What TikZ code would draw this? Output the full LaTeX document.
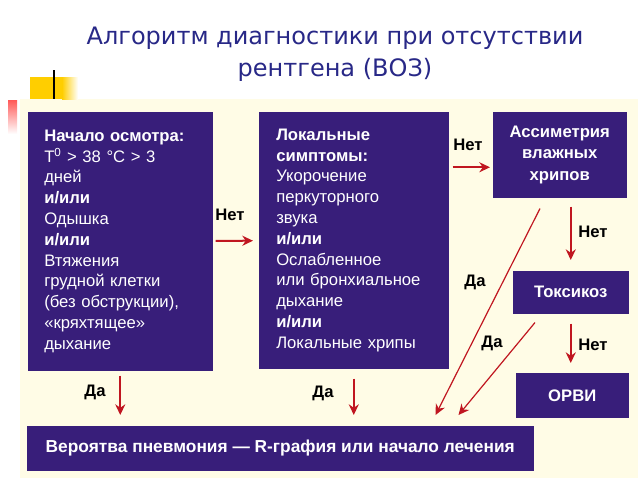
\documentclass[tikz,border=0pt]{standalone}
\usepackage{fontspec}
\setmainfont{Liberation Sans}
\newfontfamily\titlefont{DejaVu Sans}
\usetikzlibrary{arrows.meta,calc}
\definecolor{boxc}{RGB}{56,30,122}
\definecolor{arrc}{RGB}{192,22,32}
\definecolor{creme}{RGB}{255,252,230}
\definecolor{titlec}{RGB}{40,40,135}
\definecolor{ylw}{RGB}{255,206,0}
\def\answer#1#2#3{\node[lbl] (#1) at (#2) {#3}}
\tikzstyle{box}=[fill=boxc,draw=boxc,text=white,anchor=north west,inner sep=0pt,font=\fontsize{12.5}{15.6}\selectfont]
\tikzstyle{listbox}=[box,align=left,inner xsep=12pt]
\tikzstyle{headbox}=[box,align=center,font=\fontsize{12.5}{16}\selectfont\bfseries]
\tikzstyle{lbl}=[font=\fontsize{12.5}{13}\selectfont\bfseries]
\tikzstyle{arr}=[draw=arrc,line width=1.5pt,-{Stealth[length=8pt,width=7.5pt]}]
\tikzstyle{thinarr}=[arr,line width=0.9pt]

\begin{document}
\begin{tikzpicture}[x=0.75pt,y=-0.75pt]
  \useasboundingbox (0,0) rectangle (640,480);
  % slide decoration
  \fill[creme] (20,99) rectangle (638,478);
  \fill[ylw] (30,77) rectangle (62,99);
  \shade[left color=ylw,right color=white] (62,77) rectangle (78,99);
  \draw[line width=1pt] (54,70) -- (54,99);
  \shade[top color=red!65,bottom color=white] (8,100) rectangle (17,134);
  \node[align=center,text=titlec,font=\titlefont\fontsize{18}{24}\selectfont] (title) at (335,54)
    {Алгоритм диагностики при отсутствии\\рентгена (ВОЗ)};

  % boxes
  \node[listbox,text width=114pt,minimum width=138pt,minimum height=193.5pt] (start) at (28,112) {
    \textbf{Начало осмотра:}\\
    T\textsuperscript{0} > 38 °C > 3\\
    дней\\
    \textbf{и/или}\\
    Одышка\\
    \textbf{и/или}\\
    Втяжения\\
    грудной клетки\\
    (без обструкции),\\
    «кряхтящее»\\
    дыхание};
  \node[listbox,text width=116.25pt,minimum width=141.75pt,minimum height=192pt] (local) at (259,112) {
    \textbf{Локальные}\\
    \textbf{симптомы:}\\
    Укорочение\\
    перкуторного\\
    звука\\
    \textbf{и/или}\\
    Ослабленное\\
    или бронхиальное\\
    дыхание\\
    \textbf{и/или}\\
    Локальные хрипы};
  \node[headbox,minimum width=99.75pt,minimum height=63.75pt] (asym) at (493,112)
    {Ассиметрия\\влажных\\хрипов};
  \node[headbox,minimum width=86.25pt,minimum height=31.5pt] (tox) at (513,271) {Токсикоз};
  \node[headbox,minimum width=84pt,minimum height=33pt] (orvi) at (516,373) {ОРВИ};
  \node[headbox,minimum width=379.5pt,minimum height=33pt,font=\fontsize{13}{16}\selectfont\bfseries] (pneu) at (27,426)
    {Вероятва пневмония — R-графия или начало лечения};

  % arrows
  \draw[arr,shorten <=2.25pt,shorten >=4.5pt] (start) -- (local);
  \draw[arr,shorten <=3pt,shorten >=2.25pt] ($(local.east |- asym.west)+(0,12.5)$) -- ($(asym.west)+(0,12.5)$);
  \draw[arr,shorten <=6.75pt,shorten >=8.25pt] (asym.south -| tox) -- (tox);
  \draw[arr,shorten <=7.5pt,shorten >=7.5pt] (tox.south) -- (tox.south |- orvi.north);
  \draw[arr,shorten <=3.75pt,shorten >=8.25pt] (start.south) -- (start.south |- pneu.north);
  \draw[arr,shorten <=7.5pt,shorten >=8.25pt] (local.south) -- (local.south |- pneu.north);
  \draw[thinarr] ($(asym.south west)+(47,11)$) -- ($(pneu.north east)+(-98,-11)$);
  \draw[thinarr] ($(tox.south west)+(22,9)$) -- ($(pneu.north east)+(-75,-11)$);

  % labels
  \answer{no1}{230,215}{Нет};
  \answer{no2}{468,145}{Нет};
  \answer{no3}{593,232}{Нет};
  \answer{no4}{593,345}{Нет};
  \answer{yes1}{95,392}{Да};
  \answer{yes2}{323,393}{Да};
  \answer{yes3}{475,282}{Да};
  \answer{yes4}{492,343}{Да};
\end{tikzpicture}
\end{document}
